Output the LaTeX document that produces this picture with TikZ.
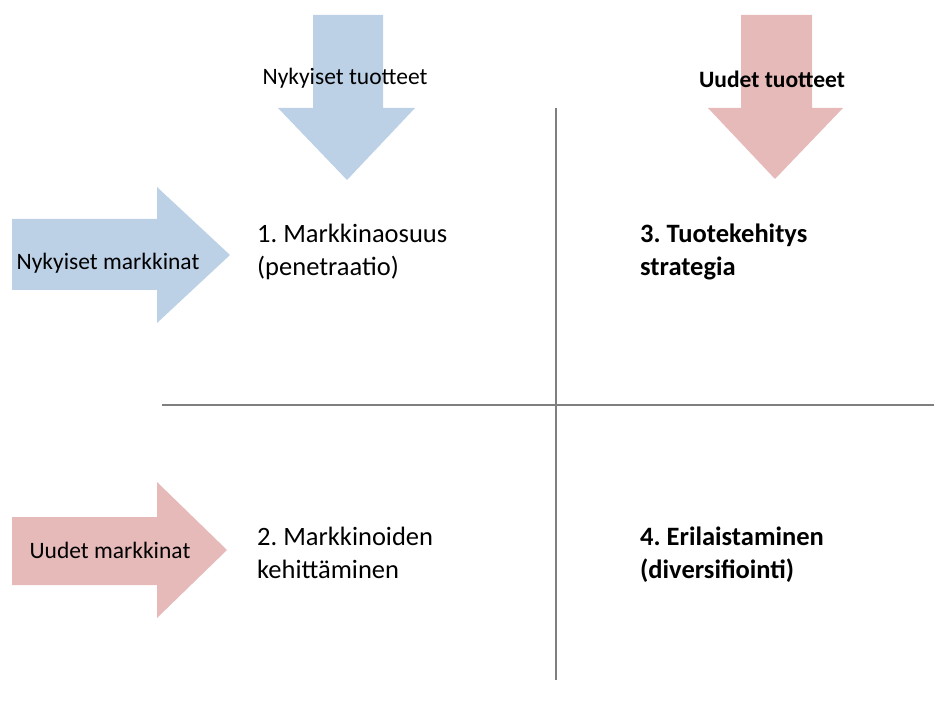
\documentclass[tikz,border=0pt]{standalone}
\usepackage{fontspec}
\setmainfont{Carlito}
\usetikzlibrary{positioning}
\frenchspacing

\definecolor{arrowblue}{HTML}{BCD0E6}
\definecolor{arrowpink}{HTML}{E6BAB9}
\definecolor{axisgray}{HTML}{7F7F7F}

\tikzset{
    lbl/.style={anchor=base, inner sep=0pt, font=\fontsize{23.5}{28}\selectfont},
    quad/.style={anchor=base west, inner sep=0pt, align=left, font=\fontsize{26.5}{33}\selectfont},
    axis/.style={draw=axisgray, line width=2pt}
}

\begin{document}
\begin{tikzpicture}[x=1pt, y=-1pt]
    \useasboundingbox (0, 0) rectangle (934, 711);

    % Arrows (products on top, markets on the left)
    \fill[arrowblue] (313, 15) -- (383, 15) -- (383, 108) -- (415, 108) -- (347, 180)
        -- (278, 108) -- (313, 108) -- cycle;
    \fill[arrowpink] (741, 15) -- (812, 15) -- (812, 108) -- (843, 108) -- (775, 179)
        -- (708, 108) -- (741, 108) -- cycle;
    \fill[arrowblue] (12, 219) -- (157, 219) -- (157, 187) -- (230, 255) -- (157, 323)
        -- (157, 290) -- (12, 290) -- cycle;
    \fill[arrowpink] (12, 517) -- (157, 517) -- (157, 482) -- (227, 550) -- (157, 618)
        -- (157, 585) -- (12, 585) -- cycle;

    % Arrow labels
    \node[lbl] (prodold) at (345, 85) {Nykyiset tuotteet};
    \node[lbl, font=\fontsize{23.5}{28}\selectfont\bfseries] (prodnew) at (772, 88) {Uudet tuotteet};
    \node[lbl] (mktold) at (108, 270) {Nykyiset markkinat};
    \node[lbl] (mktnew) at (110, 558) {Uudet markkinat};

    % Axes
    \draw[axis] (556, 108) -- (556, 680);
    \draw[axis] (162, 405) -- (934, 405);

    % Quadrants (base = last line)
    \node[quad] (q1) at (257, 276) {1. Markkinaosuus\\(penetraatio)};
    \node[quad, font=\fontsize{26.5}{33}\selectfont\bfseries] (q3) at (640, 276) {3. Tuotekehitys\\strategia};
    \node[quad] (q2) at (257, 578) {2. Markkinoiden\\kehittäminen};
    \node[quad, font=\fontsize{26.5}{33}\selectfont\bfseries] (q4) at (640, 578) {4. Erilaistaminen\\(diversifiointi)};
\end{tikzpicture}
\end{document}
